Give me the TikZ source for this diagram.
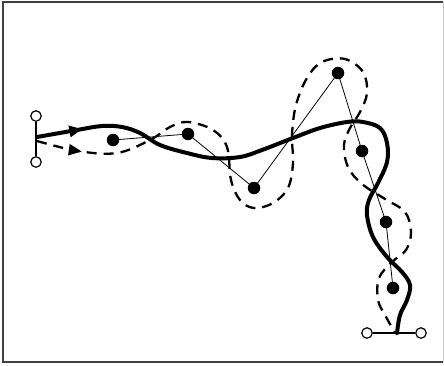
\documentclass[tikz,border=0pt]{standalone}
\usetikzlibrary{decorations.markings,arrows.meta}
\begin{document}
\begin{tikzpicture}[x=1pt,y=-1pt,
  dotnode/.style={circle,fill=black,inner sep=0pt,minimum size=12.5pt},
  termnode/.style={circle,draw=black,fill=white,line width=1.2pt,inner sep=0pt,minimum size=10.5pt},
  thinline/.style={line width=0.8pt},
  mainpath/.style={line width=4pt,line cap=round,line join=round},
  altpath/.style={line width=2.3pt,dash pattern=on 10pt off 7pt},
  arrowmark/.style={postaction={decorate},decoration={markings,mark=at position #1 with {\arrow{Triangle[length=13pt,width=11pt]}}}}
]
\useasboundingbox (0,0) rectangle (444,365);
% frame
\draw[line width=2pt,black!75] (443,2) -- (2.5,2) -- (2.5,361.5) -- (443,361.5);
\draw[line width=0.6pt,black!20] (443,2) -- (443,361.5);

% terminals
\node[termnode] (lt) at (36,116) {};
\node[termnode] (lb) at (36,162) {};
\node[termnode] (bl) at (367,333) {};
\node[termnode] (br) at (421,333) {};
\draw[line width=1.5pt] (lt) -- (lb);
\draw[line width=1.5pt] (bl) -- (br);

% dots
\node[dotnode] (d1) at (113,140) {};
\node[dotnode] (d2) at (188,134) {};
\node[dotnode] (d3) at (254,188) {};
\node[dotnode] (d4) at (338,73) {};
\node[dotnode] (d5) at (362,151) {};
\node[dotnode] (d6) at (386,222) {};
\node[dotnode] (d7) at (393,288) {};
\draw[thinline] (d1.center) -- (d2.center) -- (d3.center) -- (d4.center) -- (d5.center) -- (d6.center) -- (d7.center);
\draw[thinline] (229,159) -- (229,167);

% dashed path
\draw[altpath,arrowmark=46pt] plot[smooth,tension=0.6] coordinates {
 (37,141) (78,151) (117,153) (150,140) (170,127) (188,122) (213,130) (227,147)
 (231,180) (240,200) (254,208) (273,203) (288,188) (293,163) (292,135)
 (296,105) (307,78) (322,62) (345,59) (363,72) (367,93) (360,112) (350,128)
 (344,145) (348,167) (362,184) (385,199) (405,212) (411,232) (406,250)
 (392,262) (379,278) (378,300) (385,315) (395,333)};

% solid path
\draw[mainpath,arrowmark=46pt] plot[smooth,tension=0.6] coordinates {
 (37,137) (77,130) (102,126) (122,127) (140,133) (160,145) (187,153) (212,158)
 (240,157) (262,150) (293,138) (320,128) (347,122) (363,122) (380,128)
 (387,143) (387,162) (378,183) (369,200) (367,215) (373,237) (387,257)
 (402,272) (410,285) (407,300) (400,315) (397,333)};
\end{tikzpicture}
\end{document}
